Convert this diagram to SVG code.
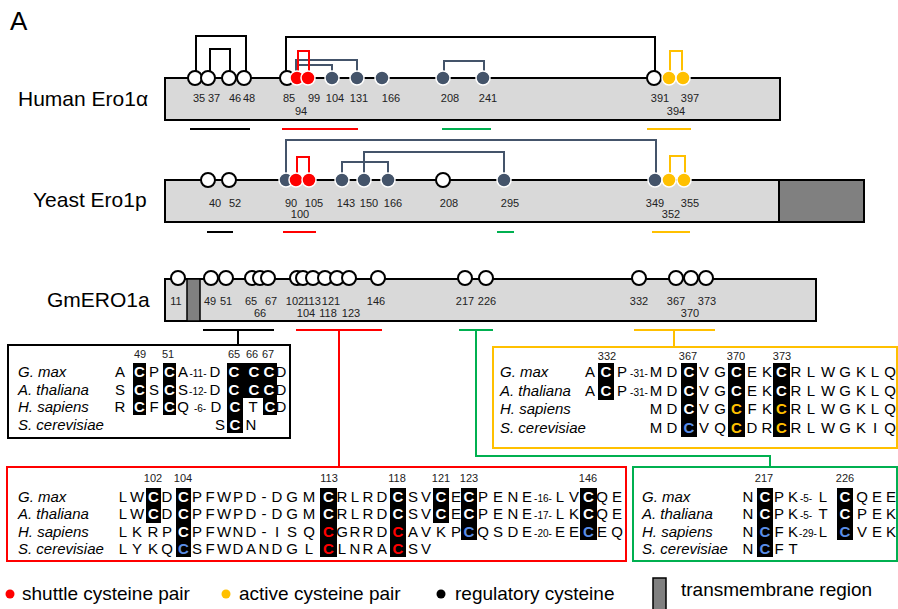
<svg xmlns="http://www.w3.org/2000/svg" width="898" height="609" viewBox="0 0 898 609">
<style>
text{font-family:"Liberation Sans",Arial,sans-serif;fill:#000}
.bar{fill:#d9d9d9;stroke:#000;stroke-width:2}
.tm{fill:#808080;stroke:#000;stroke-width:1.5}
.cw{fill:#fff;stroke:#000;stroke-width:2}
.cd{fill:#44546a;stroke:#fff;stroke-width:1.5}
.cr{fill:#ff0000;stroke:#fff;stroke-width:1.5}
.cy{fill:#ffc000;stroke:#fff;stroke-width:1.5}
.n{font-size:11px;text-anchor:middle;fill:#222}
.lbl{font-size:21px}
.sp{font-size:15px;font-style:italic}
.r{font-size:15px;text-anchor:middle}
.s{font-size:10px}
.w{fill:#fff;font-weight:bold}
.red{fill:#ff0000;font-weight:bold}
.yel{fill:#ffc000;font-weight:bold}
.blu{fill:#5b8ee6;font-weight:bold}
.bk{fill:none;stroke:#000;stroke-width:2}
.bg{fill:none;stroke:#44546a;stroke-width:2}
.brd{fill:none;stroke:#ff0000;stroke-width:2}
.by{fill:none;stroke:#ffc000;stroke-width:2}
.bgr{fill:none;stroke:#00b050;stroke-width:2}
.leg{font-size:19px}
</style>

<text x="10" y="30" style="font-size:26px">A</text>

<!-- Human Ero1a -->
<g id="human">
<text class="lbl" x="18" y="106">Human Ero1α</text>
<rect class="bar" x="165" y="78" width="615" height="42"/>
<path class="bk" d="M196 71V36H246V71M210 71V49H230V71M286 71V37H655V71"/>
<path class="bg" d="M296 71V60H357V71M296 65H332V71M444 71V61H484V71"/>
<path class="brd" d="M298 71V51H309V71"/>
<path class="by" d="M670 71V51H682V71"/>
<circle class="cw" cx="195" cy="78" r="7"/><circle class="cw" cx="208" cy="78" r="7"/>
<circle class="cw" cx="229" cy="78" r="7"/><circle class="cw" cx="244" cy="78" r="7"/>
<circle class="cw" cx="287" cy="78" r="7"/>
<circle class="cr" cx="297" cy="78" r="7"/><circle class="cr" cx="308" cy="78" r="7"/>
<circle class="cd" cx="332" cy="78" r="7"/><circle class="cd" cx="357" cy="78" r="7"/>
<circle class="cd" cx="382" cy="78" r="7"/><circle class="cd" cx="443" cy="78" r="7"/>
<circle class="cd" cx="483" cy="78" r="7"/>
<circle class="cw" cx="654" cy="78" r="7"/>
<circle class="cy" cx="669" cy="78" r="7"/><circle class="cy" cx="683" cy="78" r="7"/>
<text class="n" y="102"><tspan x="199">35</tspan><tspan x="214">37</tspan><tspan x="235">46</tspan><tspan x="249">48</tspan><tspan x="289">85</tspan><tspan x="314">99</tspan><tspan x="335">104</tspan><tspan x="359">131</tspan><tspan x="391">166</tspan><tspan x="450">208</tspan><tspan x="488">241</tspan><tspan x="660">391</tspan><tspan x="690">397</tspan></text>
<text class="n" y="115"><tspan x="301">94</tspan><tspan x="676">394</tspan></text>
</g>

<!-- Yeast Ero1p -->
<g id="yeast">
<text class="lbl" x="33" y="207">Yeast Ero1p</text>
<rect class="bar" x="165" y="180" width="614" height="42"/>
<rect class="tm" x="779" y="180" width="85" height="42" style="stroke-width:2"/>
<path class="bg" d="M286 173V140H656V173M364 173V152H504V173M342 173V162H388V173"/>
<path class="brd" d="M297 173V157H309V173"/>
<path class="by" d="M670 173V156H685V173"/>
<circle class="cw" cx="208" cy="180" r="7"/><circle class="cw" cx="229" cy="180" r="7"/>
<circle class="cd" cx="286" cy="180" r="7"/>
<circle class="cr" cx="296" cy="180" r="7"/><circle class="cr" cx="309" cy="180" r="7"/>
<circle class="cd" cx="342" cy="180" r="7"/><circle class="cd" cx="364" cy="180" r="7"/>
<circle class="cd" cx="388" cy="180" r="7"/>
<circle class="cw" cx="443" cy="180" r="7"/>
<circle class="cd" cx="504" cy="180" r="7"/><circle class="cd" cx="655" cy="180" r="7"/>
<circle class="cy" cx="669" cy="180" r="7"/><circle class="cy" cx="684" cy="180" r="7"/>
<text class="n" y="207"><tspan x="215">40</tspan><tspan x="235">52</tspan><tspan x="291">90</tspan><tspan x="314">105</tspan><tspan x="346">143</tspan><tspan x="369">150</tspan><tspan x="393">166</tspan><tspan x="449">208</tspan><tspan x="510">295</tspan><tspan x="655">349</tspan><tspan x="690">355</tspan></text>
<text class="n" y="218"><tspan x="300">100</tspan><tspan x="671">352</tspan></text>
</g>

<!-- GmERO1a -->
<g id="gmero1a">
<text class="lbl" x="47" y="307">GmERO1a</text>
<rect class="bar" x="165" y="279" width="651" height="42"/>
<rect class="tm" x="187" y="279" width="13" height="42"/>
<g class="cw">
<circle cx="178" cy="278" r="7"/><circle cx="211" cy="278" r="7"/><circle cx="226" cy="278" r="7"/>
<circle cx="252" cy="278" r="7"/><circle cx="260" cy="278" r="7"/><circle cx="268" cy="278" r="7"/>
<circle cx="297" cy="278" r="7"/><circle cx="303" cy="278" r="7"/><circle cx="313" cy="278" r="7"/>
<circle cx="325" cy="278" r="7"/><circle cx="337" cy="278" r="7"/><circle cx="349" cy="278" r="7"/>
<circle cx="378" cy="278" r="7"/><circle cx="465" cy="278" r="7"/><circle cx="486" cy="278" r="7"/>
<circle cx="639" cy="278" r="7"/><circle cx="676" cy="278" r="7"/><circle cx="691" cy="278" r="7"/>
<circle cx="706" cy="278" r="7"/>
</g>
<text class="n" y="305"><tspan x="176">11</tspan><tspan x="210">49</tspan><tspan x="226">51</tspan><tspan x="251">65</tspan><tspan x="271">67</tspan><tspan x="295">102</tspan><tspan x="312">113</tspan><tspan x="331">121</tspan><tspan x="376">146</tspan><tspan x="465">217</tspan><tspan x="487">226</tspan><tspan x="639">332</tspan><tspan x="676">367</tspan><tspan x="707">373</tspan></text>
<text class="n" y="317"><tspan x="260">66</tspan><tspan x="306">104</tspan><tspan x="328">118</tspan><tspan x="351">123</tspan><tspan x="690">370</tspan></text>
</g>

<!-- connectors -->
<g id="connectors">
<path class="bk" d="M190 129H250M207 232H233M203 330H274M238 330V345"/>
<path class="brd" d="M282 129H358M283 232H316M296 330H382M339 330V467"/>
<path class="bgr" d="M442 129H491M497 232H514M459 330H493M476 330V456H770V467"/>
<path class="by" d="M647 129H691M652 232H690M634 330H715M674 330V347"/>
</g>

<!-- black alignment box -->
<g id="align-black">
<rect x="8" y="345" width="282" height="93" fill="#fff" stroke="#000" stroke-width="2"/>
<g fill="#000">
<rect x="133" y="363" width="13" height="52"/><rect x="163" y="363" width="13" height="52"/>
<rect x="227" y="363" width="50" height="35"/><rect x="227" y="398" width="16" height="35"/>
<rect x="263" y="398" width="14" height="17"/>
</g>
<text class="n" y="358"><tspan x="140">49</tspan><tspan x="168">51</tspan><tspan x="234">65</tspan><tspan x="252">66</tspan><tspan x="268">67</tspan></text>
<text class="sp" x="18" y="377">G. max</text>
<text class="sp" x="18" y="395">A. thaliana</text>
<text class="sp" x="18" y="412">H. sapiens</text>
<text class="sp" x="18" y="430">S. cerevisiae</text>
<text class="r" y="377"><tspan x="120">A</tspan><tspan class="w" x="139.5">C</tspan><tspan x="154">P</tspan><tspan class="w" x="169.5">C</tspan><tspan x="183">A</tspan><tspan class="s" x="198">-11-</tspan><tspan x="215">D</tspan><tspan class="w" x="234 254 269">CCC</tspan><tspan x="281">D</tspan></text>
<text class="r" y="395"><tspan x="120">S</tspan><tspan class="w" x="139.5">C</tspan><tspan x="154">S</tspan><tspan class="w" x="169.5">C</tspan><tspan x="183">S</tspan><tspan class="s" x="198">-12-</tspan><tspan x="215">D</tspan><tspan class="w" x="234 254 269">CCC</tspan><tspan x="281">D</tspan></text>
<text class="r" y="412"><tspan x="120">R</tspan><tspan class="w" x="139.5">C</tspan><tspan x="154">F</tspan><tspan class="w" x="169.5">C</tspan><tspan x="183">Q</tspan><tspan class="s" x="200">-6-</tspan><tspan x="216">D</tspan><tspan class="w" x="235">C</tspan><tspan x="253">T</tspan><tspan class="w" x="270">C</tspan><tspan x="281">D</tspan></text>
<text class="r" y="430"><tspan x="220">S</tspan><tspan class="w" x="235">C</tspan><tspan x="251">N</tspan></text>
</g>

<!-- yellow alignment box -->
<g id="align-yellow">
<rect x="493" y="347" width="404" height="101" fill="#fff" stroke="#ffc000" stroke-width="2"/>
<g fill="#000">
<rect x="598" y="363" width="16" height="37"/><rect x="681" y="363" width="16" height="74"/>
<rect x="728" y="363" width="17" height="74"/><rect x="773" y="363" width="17" height="74"/>
</g>
<text class="n" y="360"><tspan x="607">332</tspan><tspan x="688">367</tspan><tspan x="736">370</tspan><tspan x="782">373</tspan></text>
<text class="sp" x="500" y="377">G. max</text>
<text class="sp" x="500" y="396">A. thaliana</text>
<text class="sp" x="500" y="414">H. sapiens</text>
<text class="sp" x="500" y="433">S. cerevisiae</text>
<text class="r" y="377"><tspan x="590">A</tspan><tspan class="w" x="606">C</tspan><tspan x="622">P</tspan><tspan class="s" x="639">-31-</tspan><tspan x="656 672">MD</tspan><tspan class="w" x="689">C</tspan><tspan x="704 720">VG</tspan><tspan class="w" x="736.5">C</tspan><tspan x="752 767">EK</tspan><tspan class="w" x="781.5">C</tspan><tspan x="796 811 828 845 861 875 890">RLWGKLQ</tspan></text>
<text class="r" y="396"><tspan x="590">A</tspan><tspan class="w" x="606">C</tspan><tspan x="622">P</tspan><tspan class="s" x="639">-31-</tspan><tspan x="656 672">MD</tspan><tspan class="w" x="689">C</tspan><tspan x="704 720">VG</tspan><tspan class="w" x="736.5">C</tspan><tspan x="752 767">EK</tspan><tspan class="w" x="781.5">C</tspan><tspan x="796 811 828 845 861 875 890">RLWGKLQ</tspan></text>
<text class="r" y="414"><tspan x="656 672">MD</tspan><tspan class="w" x="689">C</tspan><tspan x="704 720">VG</tspan><tspan class="yel" x="736.5">C</tspan><tspan x="752 767">FK</tspan><tspan class="yel" x="781.5">C</tspan><tspan x="796 811 828 845 861 875 890">RLWGKLQ</tspan></text>
<text class="r" y="433"><tspan x="656 672">MD</tspan><tspan class="blu" x="689">C</tspan><tspan x="704 720">VQ</tspan><tspan class="yel" x="736.5">C</tspan><tspan x="752 767">DR</tspan><tspan class="yel" x="781.5">C</tspan><tspan x="796 811 828 845 861 875 890">RLWGKIQ</tspan></text>
</g>

<!-- red alignment box -->
<g id="align-red">
<rect x="7" y="467" width="619" height="94" fill="#fff" stroke="#ff0000" stroke-width="2"/>
<g fill="#000">
<rect x="146" y="488" width="15" height="35"/><rect x="176" y="488" width="15" height="69"/>
<rect x="320" y="488" width="17" height="69"/><rect x="390" y="488" width="16" height="69"/>
<rect x="433" y="488" width="16" height="35"/><rect x="461" y="488" width="16" height="52"/>
<rect x="580" y="488" width="17" height="52"/>
</g>
<text class="n" y="482"><tspan x="153">102</tspan><tspan x="183">104</tspan><tspan x="329">113</tspan><tspan x="397">118</tspan><tspan x="441">121</tspan><tspan x="469">123</tspan><tspan x="588">146</tspan></text>
<text class="sp" x="18" y="502">G. max</text>
<text class="sp" x="18" y="519">A. thaliana</text>
<text class="sp" x="18" y="537">H. sapiens</text>
<text class="sp" x="18" y="554">S. cerevisiae</text>
<text class="r" y="502"><tspan x="123 137">LW</tspan><tspan class="w" x="153.5">C</tspan><tspan x="167">D</tspan><tspan class="w" x="183.5">C</tspan><tspan x="197 210 224 238 251 264 277 292 309">PFWPD-DGM</tspan><tspan class="w" x="328.5">C</tspan><tspan x="342 355 368 382">RLRD</tspan><tspan class="w" x="398">C</tspan><tspan x="413 426">SV</tspan><tspan class="w" x="441">C</tspan><tspan x="456">E</tspan><tspan class="w" x="469">C</tspan><tspan x="483 498 513 527">PENE</tspan><tspan class="s" x="543">-16-</tspan><tspan x="560 574">LV</tspan><tspan class="w" x="588.5">C</tspan><tspan x="602 617">QE</tspan></text>
<text class="r" y="519"><tspan x="123 137">LW</tspan><tspan class="w" x="153.5">C</tspan><tspan x="167">D</tspan><tspan class="w" x="183.5">C</tspan><tspan x="197 210 224 238 251 264 277 292 309">PFWPD-DGM</tspan><tspan class="w" x="328.5">C</tspan><tspan x="342 355 368 382">RLRD</tspan><tspan class="w" x="398">C</tspan><tspan x="413 426">SV</tspan><tspan class="w" x="441">C</tspan><tspan x="456">E</tspan><tspan class="w" x="469">C</tspan><tspan x="483 498 513 527">PENE</tspan><tspan class="s" x="543">-17-</tspan><tspan x="560 574">LK</tspan><tspan class="w" x="588.5">C</tspan><tspan x="602 617">QE</tspan></text>
<text class="r" y="537"><tspan x="123 137 153 167">LKRP</tspan><tspan class="w" x="183.5">C</tspan><tspan x="197 210 224 238 251 264 277 292 309">PFWND-ISQ</tspan><tspan class="red" x="328.5">C</tspan><tspan x="342 355 368 382">GRRD</tspan><tspan class="red" x="398">C</tspan><tspan x="413 426 441 456">AVKP</tspan><tspan class="blu" x="469">C</tspan><tspan x="483 498 513 527">QSDE</tspan><tspan class="s" x="543">-20-</tspan><tspan x="560 574">EE</tspan><tspan class="blu" x="588.5">C</tspan><tspan x="602 617">EQ</tspan></text>
<text class="r" y="554"><tspan x="123 137 153 167">LYKQ</tspan><tspan class="blu" x="183.5">C</tspan><tspan x="197 210 224 238 251 264 277 292 309">SFWDANDGL</tspan><tspan class="red" x="328.5">C</tspan><tspan x="342 355 368 382">LNRA</tspan><tspan class="red" x="398">C</tspan><tspan x="413 426">SV</tspan></text>
</g>

<!-- green alignment box -->
<g id="align-green">
<rect x="633" y="467" width="264" height="94" fill="#fff" stroke="#00b050" stroke-width="2"/>
<g fill="#000">
<rect x="757" y="488" width="16" height="69"/><rect x="837" y="488" width="16" height="52"/>
</g>
<text class="n" y="482"><tspan x="764">217</tspan><tspan x="845">226</tspan></text>
<text class="sp" x="642" y="502">G. max</text>
<text class="sp" x="642" y="519">A. thaliana</text>
<text class="sp" x="642" y="537">H. sapiens</text>
<text class="sp" x="642" y="554">S. cerevisiae</text>
<text class="r" y="502"><tspan x="748">N</tspan><tspan class="w" x="765">C</tspan><tspan x="779 793">PK</tspan><tspan class="s" x="806">-5-</tspan><tspan x="823">L</tspan><tspan class="w" x="845">C</tspan><tspan x="862 877 891">QEE</tspan></text>
<text class="r" y="519"><tspan x="748">N</tspan><tspan class="w" x="765">C</tspan><tspan x="779 793">PK</tspan><tspan class="s" x="806">-5-</tspan><tspan x="823">T</tspan><tspan class="w" x="845">C</tspan><tspan x="862 877 891">PEK</tspan></text>
<text class="r" y="537"><tspan x="748">N</tspan><tspan class="blu" x="765">C</tspan><tspan x="779 793">FK</tspan><tspan class="s" x="808">-29-</tspan><tspan x="823">L</tspan><tspan class="blu" x="845">C</tspan><tspan x="862 877 891">VEK</tspan></text>
<text class="r" y="554"><tspan x="748">N</tspan><tspan class="blu" x="765">C</tspan><tspan x="779 793">FT</tspan></text>
</g>

<!-- legend -->
<g id="legend">
<circle cx="10" cy="594" r="4.5" fill="#ff0000"/>
<text class="leg" x="22" y="600">shuttle cysteine pair</text>
<circle cx="226" cy="594" r="4.5" fill="#ffc000"/>
<text class="leg" x="239" y="600">active cysteine pair</text>
<circle cx="441" cy="594" r="4.5" fill="#000"/>
<text class="leg" x="455" y="600">regulatory cysteine</text>
<rect class="tm" x="653" y="578" width="13" height="34"/>
<text class="leg" x="681" y="596">transmembrane region</text>
</g>
</svg>
